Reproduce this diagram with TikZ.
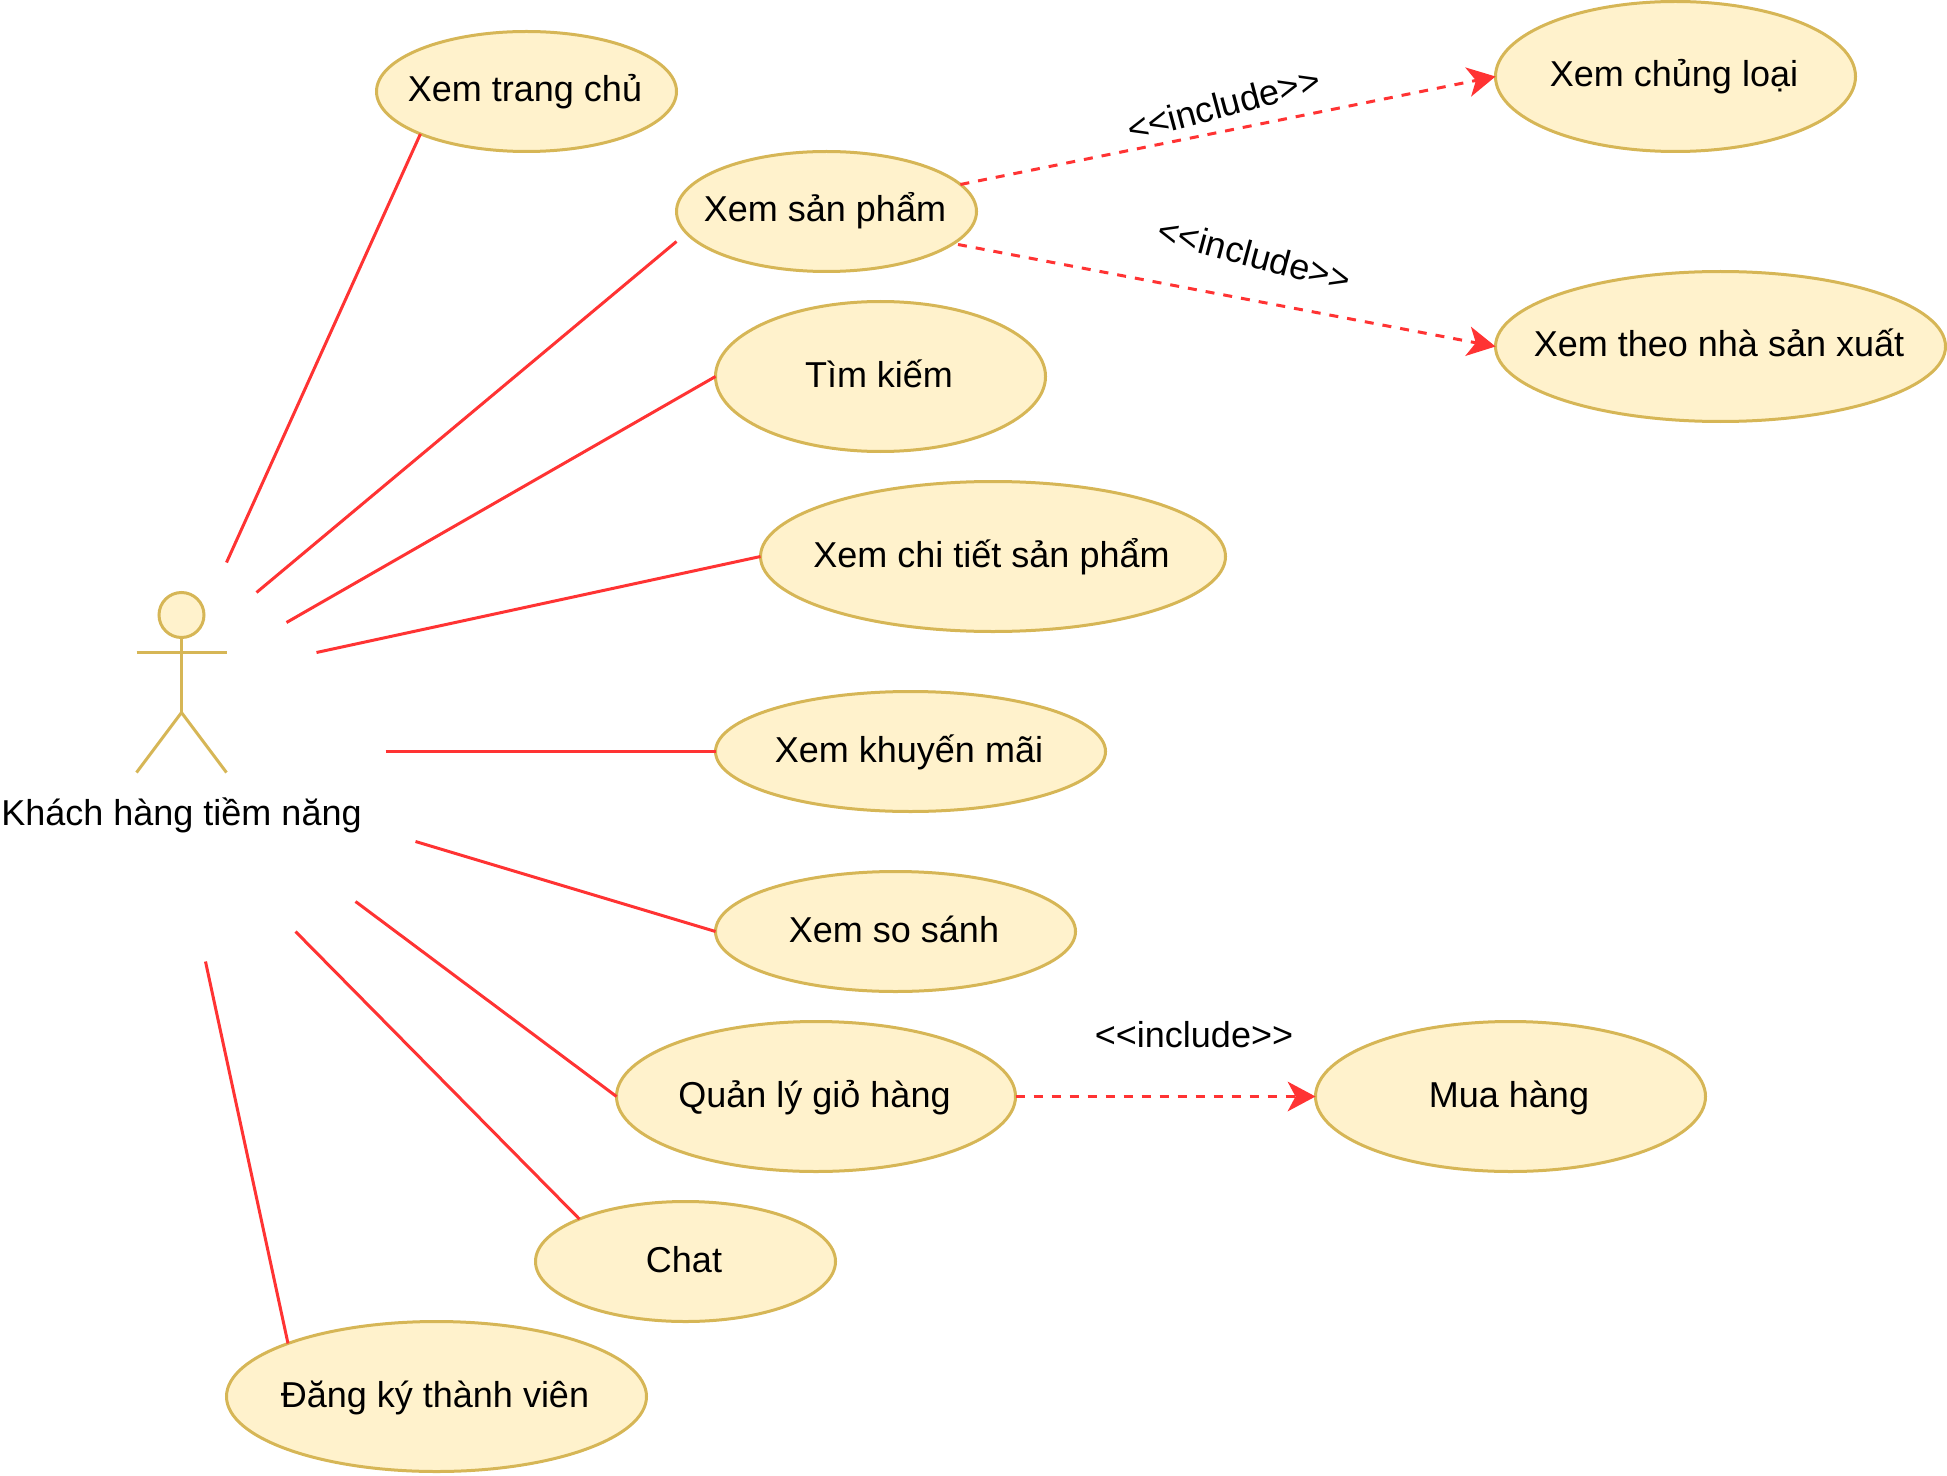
\documentclass[tikz,border=0pt]{standalone}
\usepackage{fontspec}
\setmainfont{Liberation Sans}
\usetikzlibrary{shapes.geometric, arrows.meta}
\definecolor{ucfill}{HTML}{FFF2CC}
\definecolor{ucdraw}{HTML}{D6B656}
\definecolor{linkred}{HTML}{FF3333}
\newcommand{\uclabel}[1]{\clap{#1\hspace{1.5pt}}}
\newcommand{\incltext}{{<}{<}include{>}{>}}
\tikzset{
    usecase/.style={ellipse, draw=ucdraw, fill=ucfill, line width=1.5pt, inner sep=0pt, outer sep=0pt, minimum height=60pt},
    bigcase/.style={usecase, minimum height=75pt},
    actorline/.style={draw=ucdraw, line width=1.5pt},
    assoc/.style={draw=linkred, line width=1.5pt},
    incl/.style={draw=linkred, line width=1.5pt, dash pattern=on 4.5pt off 4.5pt, -{Stealth[length=14pt, width=15pt, inset=4pt, line width=0pt, fill=linkred]}},
    every node/.style={font=\fontsize{18}{22}\selectfont, text height=12pt, text depth=1.5pt}
}
\begin{document}
\begin{tikzpicture}[x=0.5pt, y=-0.5pt]

    \useasboundingbox (0,0) rectangle (1947,1476);

    \node[circle, draw=ucdraw, fill=ucfill, line width=1.5pt, inner sep=0pt, outer sep=0pt, minimum size=22.5pt, text height=0pt, text depth=0pt] (head) at (181.5,615) {};
    \coordinate (armleft) at (136.5,652.5);
    \coordinate (armright) at (226.5,652.5);
    \coordinate (hip) at (181.5,712.5);
    \coordinate (footleft) at (136.5,772.5);
    \coordinate (footright) at (226.5,772.5);
    \draw[actorline] (head) -- (hip);
    \draw[actorline] (armleft) -- (armright);
    \draw[actorline] (footleft) -- (hip) -- (footright);
    \node (actorname) at (181.5,814.5) {Khách hàng tiềm năng};

    \node[usecase, minimum width=150pt] (home) at (526.5,91.5) {\uclabel{Xem trang chủ}};
    \node[usecase, minimum width=150pt] (product) at (826.5,211.5) {\uclabel{Xem sản phẩm}};
    \node[bigcase, minimum width=165pt] (search) at (880.5,376.5) {\uclabel{Tìm kiếm}};
    \node[bigcase, minimum width=232.5pt] (detail) at (993,556.5) {\uclabel{Xem chi tiết sản phẩm}};
    \node[usecase, minimum width=195pt] (promo) at (910.5,751.5) {\uclabel{Xem khuyến mãi}};
    \node[usecase, minimum width=180pt] (compare) at (895.5,931.5) {\uclabel{Xem so sánh}};
    \node[bigcase, minimum width=199.5pt] (cart) at (816,1096.5) {\uclabel{Quản lý giỏ hàng}};
    \node[usecase, minimum width=150pt] (chat) at (685.5,1261.5) {\uclabel{Chat}};
    \node[bigcase, minimum width=210pt] (signup) at (436.5,1396.5) {\uclabel{Đăng ký thành viên}};
    \node[bigcase, minimum width=180pt] (category) at (1675.5,76.5) {\uclabel{Xem chủng loại}};
    \node[bigcase, minimum width=225pt] (maker) at (1720.5,346.5) {\uclabel{Xem theo nhà sản xuất}};
    \node[bigcase, minimum width=195pt] (buy) at (1510.5,1096.5) {\uclabel{Mua hàng}};

    \coordinate (a1) at (226.5,562.5);
    \coordinate (a2) at (256.5,592.5);
    \coordinate (a3) at (286.5,622.5);
    \coordinate (a4) at (316.5,652.5);
    \coordinate (a5) at (385.5,751.5);
    \coordinate (a6) at (415.5,841.5);
    \coordinate (a7) at (355.5,901.5);
    \coordinate (a8) at (295.5,931.5);
    \coordinate (a9) at (205.5,961.5);
    \coordinate (productin) at (676.5,241.5);
    \coordinate (productout) at (958,244.5);

    \draw[assoc] (a1) -- (home.south west);
    \draw[assoc] (a2) -- (productin);
    \draw[assoc] (a3) -- (search.west);
    \draw[assoc] (a4) -- (detail.west);
    \draw[assoc] (a5) -- (promo.west);
    \draw[assoc] (a6) -- (compare.west);
    \draw[assoc] (a7) -- (cart.west);
    \draw[assoc] (a8) -- (chat.north west);
    \draw[assoc] (a9) -- (signup.north west);

    \draw[incl] (product) -- (category.west);
    \draw[incl] (productout) -- (maker.west);
    \draw[incl] (cart.east) -- (buy.west);

    \node[rotate=15] (inclcategory) at (1224,106.5) {\incltext};
    \node[rotate=-15] (inclmaker) at (1254,257) {\incltext};
    \node (inclbuy) at (1194,1036.5) {\incltext};

\end{tikzpicture}
\end{document}
